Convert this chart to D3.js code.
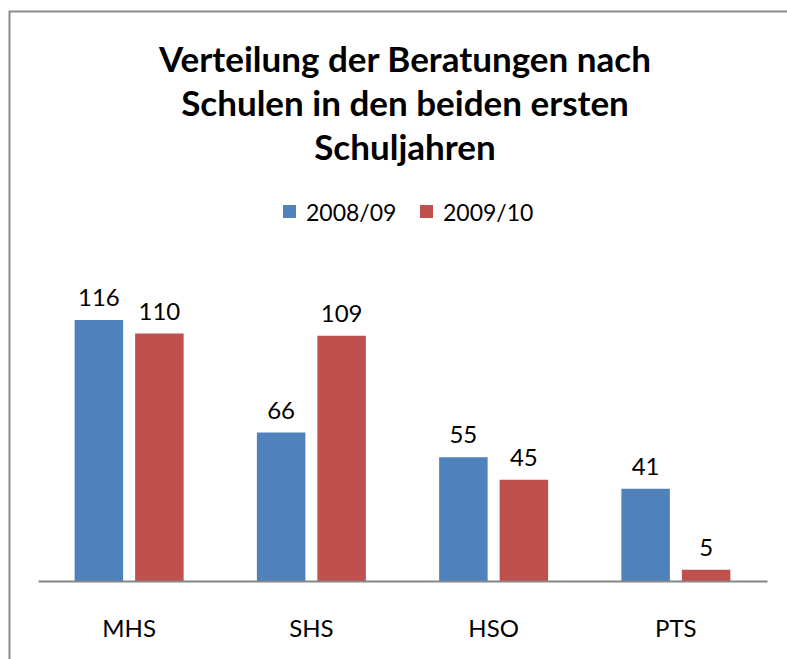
<!DOCTYPE html>
<html><head><meta charset="utf-8">
<script src="https://cdn.jsdelivr.net/npm/d3@7"></script>
<style>html,body{margin:0;padding:0;background:#fff;}svg{display:block;}</style>
</head><body>
<svg id="chart" width="787" height="659"></svg>
<script>
const categories = ["MHS", "SHS", "HSO", "PTS"];
const seriesNames = ["2008/09", "2009/10"];
const values2008 = [116, 66, 55, 41];
const values2009 = [110, 109, 45, 5];
const titleLines = ["Verteilung der Beratungen nach", "Schulen in den beiden ersten", "Schuljahren"];
const colors = ["#4F81BD", "#C0504D"];

const svg = d3.select("#chart");
const font = "Lato, 'Open Sans', sans-serif";

// chart border (cropped at right/bottom)
svg.append("path").attr("d", "M9.5,700 L9.5,11.5 L800,11.5")
  .attr("fill", "none").attr("stroke", "#8a8a8a").attr("stroke-width", 2);

// title
svg.append("g").selectAll("text").data(titleLines).join("text")
  .attr("x", 405).attr("y", (d, i) => 72 + i * 44)
  .attr("text-anchor", "middle").attr("font-family", font)
  .attr("font-weight", "bold").attr("font-size", 35).attr("fill", "#000")
  .text(d => d);

// legend
const legX = [283, 420];
const leg = svg.append("g");
seriesNames.forEach((s, i) => {
  leg.append("rect").attr("x", legX[i]).attr("y", 205).attr("width", 13).attr("height", 13).attr("fill", colors[i]);
  leg.append("text").attr("x", legX[i] + 23).attr("y", 221).attr("font-family", font)
    .attr("font-size", 23).attr("fill", "#000").text(s);
});

// scales
const x = d3.scaleBand().domain(categories).range([38, 767]);
const y = d3.scaleLinear().domain([0, 116]).range([581, 320]);
const bw = 48.5, gap = 6;

const data = categories.map((c, i) => ({c, v: [values2008[i], values2009[i]]}));
const g = svg.append("g");
data.forEach(d => {
  const cx = x(d.c) + x.bandwidth() / 2;
  d.v.forEach((v, j) => {
    const bx = j === 0 ? cx - gap - bw : cx + gap;
    g.append("rect").attr("x", bx).attr("y", y(v)).attr("width", bw)
      .attr("height", y(0) - y(v)).attr("fill", colors[j]);
    g.append("text").attr("x", bx + bw / 2).attr("y", y(v) - 14)
      .attr("text-anchor", "middle").attr("font-family", font).attr("font-size", 24)
      .attr("fill", "#000").text(v);
  });
});

// axis
const axis = svg.append("g").attr("transform", "translate(0,581)")
  .call(d3.axisBottom(x).tickSize(0).tickPadding(32));
axis.select(".domain").attr("stroke", "#868686").attr("stroke-width", 2);
axis.selectAll("text").attr("font-family", font).attr("font-size", 24).attr("fill", "#000")
  .attr("dy", "0");
axis.selectAll(".tick text").attr("y", 56);
</script>
</body></html>
